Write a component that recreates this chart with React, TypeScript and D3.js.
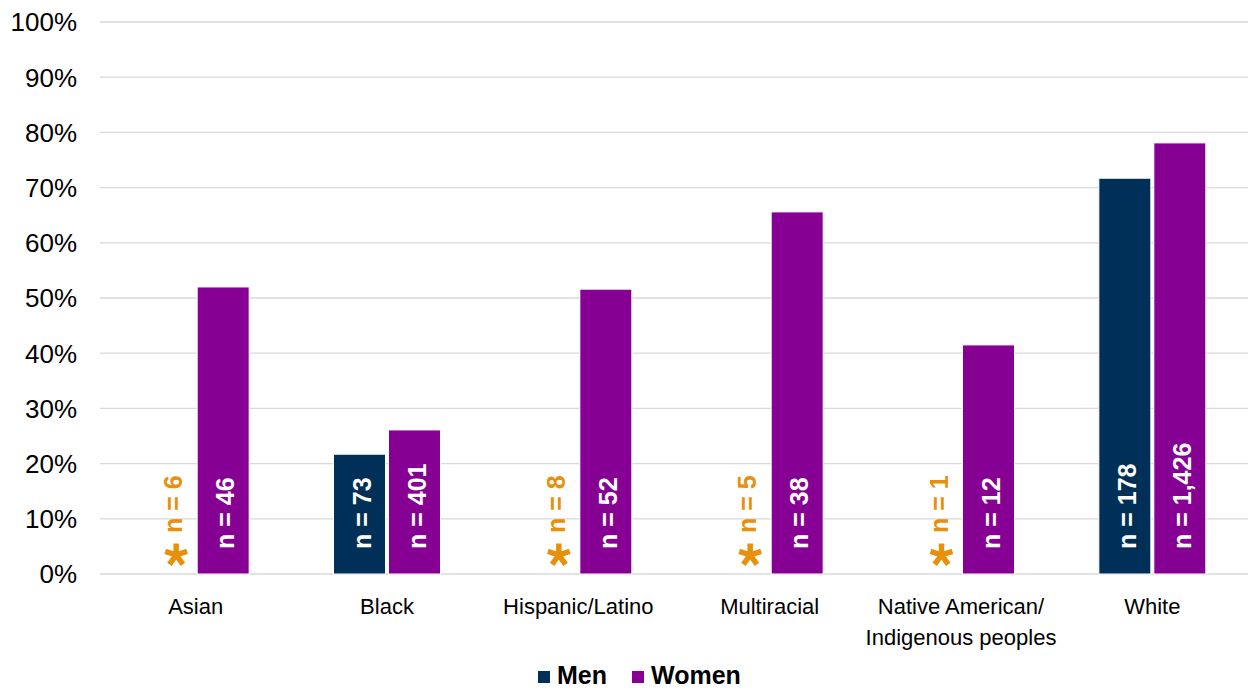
import React from "react";
import * as d3 from "d3";

const categories = ["Asian", "Black", "Hispanic/Latino", "Multiracial", "Native American/\nIndigenous peoples", "White"];
const menValues: (number | null)[] = [null, 21.7, null, null, null, 71.7];
const womenValues = [52.0, 26.1, 51.6, 65.6, 41.5, 78.1];
const menN = ["6", "73", "8", "5", "1", "178"];
const womenN = ["46", "401", "52", "38", "12", "1,426"];
const yTicks = [0, 10, 20, 30, 40, 50, 60, 70, 80, 90, 100];

const W = 1248, H = 689;
const MEN = "#003057";
const WOMEN = "#870094";
const ORANGE = "#E8900C";
const FONT = "'Liberation Sans', Arial, sans-serif";

function asteriskPath(cx: number, cy: number, r: number) {
  const p = d3.path();
  for (let k = 0; k < 5; k++) {
    const a = -Math.PI / 2 + (k * 2 * Math.PI) / 5;
    p.moveTo(cx, cy);
    p.lineTo(cx + r * Math.cos(a), cy + r * Math.sin(a));
  }
  return p.toString();
}

export default function App() {
  const x = d3.scaleBand<string>().domain(categories).range([100, 1248]);
  const y = d3.scaleLinear().domain([0, 100]).range([574, 22]);
  const bw = 52, gap = 3;
  const base = y(0);
  return (
    <svg width={W} height={H} style={{ position: "absolute", left: 0, top: 0, fontFamily: FONT }}>
      {yTicks.map((t) => (
        <g key={t}>
          <line x1={100} x2={1248} y1={y(t)} y2={y(t)} stroke="#d9d9d9" strokeWidth={1.3} />
          <text x={77} y={y(t)} dy="0.36em" textAnchor="end" fontSize={26} fill="#000">{t}%</text>
        </g>
      ))}
      {categories.map((c, i) => {
        const cx = x(c)! + x.bandwidth() / 2;
        const mx = cx - gap / 2 - bw;
        const wx = cx + gap / 2;
        const mv = menValues[i];
        const lines = c.split("\n");
        return (
          <g key={c}>
            {mv != null ? (
              <>
                <rect x={mx} y={y(mv)} width={bw} height={base - y(mv)} fill={MEN} stroke="#fff" strokeWidth={1} />
                <text transform={`translate(${mx + bw / 2 + 11},${base - 25}) rotate(-90)`} fontSize={25} fontWeight="bold" fill="#fff">n = {menN[i]}</text>
              </>
            ) : (
              <>
                <path d={asteriskPath(mx + bw / 2 + 8, base - 19, 11.5)} stroke={ORANGE} strokeWidth={5.5} fill="none" />
                <text transform={`translate(${mx + bw / 2 + 14},${base - 41}) rotate(-90)`} fontSize={25} fontWeight="bold" fill={ORANGE}>n = {menN[i]}</text>
              </>
            )}
            <rect x={wx} y={y(womenValues[i])} width={bw} height={base - y(womenValues[i])} fill={WOMEN} stroke="#fff" strokeWidth={1} />
            <text transform={`translate(${wx + bw / 2 + 11},${base - 25}) rotate(-90)`} fontSize={25} fontWeight="bold" fill="#fff">n = {womenN[i]}</text>
            {lines.map((l, j) => (
              <text key={j} x={cx} y={614 + j * 31} textAnchor="middle" fontSize={22} fill="#000">{l}</text>
            ))}
          </g>
        );
      })}
      <g>
        <rect x={538} y={671} width={12} height={12} fill={MEN} />
        <text x={557} y={684} fontSize={25} fontWeight="bold" fill="#000">Men</text>
        <rect x={632} y={671} width={12} height={12} fill={WOMEN} />
        <text x={651} y={684} fontSize={25} fontWeight="bold" fill="#000">Women</text>
      </g>
    </svg>
  );
}
